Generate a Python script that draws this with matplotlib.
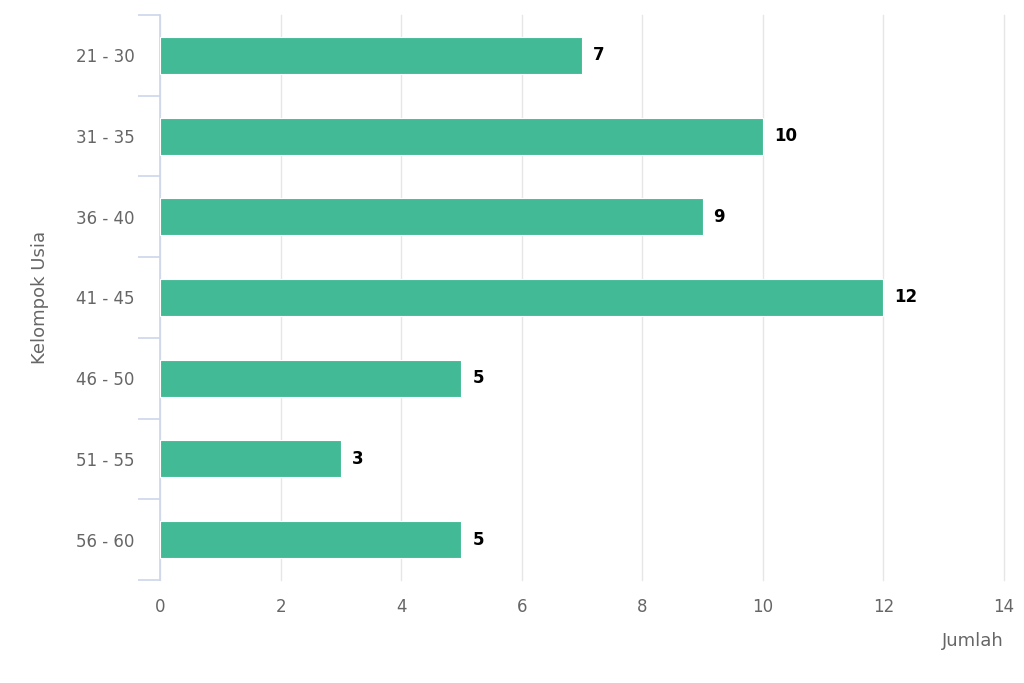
import matplotlib.pyplot as plt
from matplotlib.ticker import FixedLocator

plt.rcParams['font.family'] = ['DejaVu Sans']

kelompok_usia = ['21 - 30', '31 - 35', '36 - 40', '41 - 45', '46 - 50', '51 - 55', '56 - 60']
jumlah = [7, 10, 9, 12, 5, 3, 5]

fig = plt.figure(figsize=(10.24, 6.83), dpi=100)
ax = fig.add_axes([160 / 1024, 103 / 683, 844 / 1024, 565 / 683])

pos = list(range(len(kelompok_usia)))
ax.barh(pos, jumlah, height=0.46, color='#43BA96', edgecolor='white', linewidth=0.8, zorder=3)

for p, v in zip(pos, jumlah):
    ax.text(v + 0.18, p, str(v), va='center', ha='left', fontsize=12,
            fontweight='bold', color='black', zorder=4)

ax.set_xlim(0, 14)
ax.set_ylim(len(kelompok_usia) - 0.5, -0.5)
ax.set_xticks(range(0, 15, 2))
ax.set_yticks(pos)
ax.set_yticklabels(kelompok_usia)
ax.yaxis.set_minor_locator(FixedLocator([p - 0.5 for p in pos] + [len(pos) - 0.5]))

ax.grid(axis='x', color='#e6e6e6', linewidth=1, zorder=0, clip_on=False)
for s in ['top', 'right', 'bottom']:
    ax.spines[s].set_visible(False)
ax.spines['left'].set_color('#ccd6eb')
ax.spines['left'].set_linewidth(1.2)

ax.tick_params(axis='y', which='major', length=0, pad=18.5, labelsize=12, labelcolor='#666666')
ax.tick_params(axis='y', which='minor', length=16, color='#ccd6eb', width=1.2)
ax.tick_params(axis='x', length=0, pad=13, labelsize=12, labelcolor='#666666')

ax.set_ylabel('Kelompok Usia', fontsize=13, color='#666666', labelpad=19)
ax.set_xlabel('Jumlah', fontsize=13, color='#666666')
ax.xaxis.set_label_coords(1.0, -0.092)
ax.xaxis.label.set_horizontalalignment('right')

plt.savefig('out.png', dpi=100)
